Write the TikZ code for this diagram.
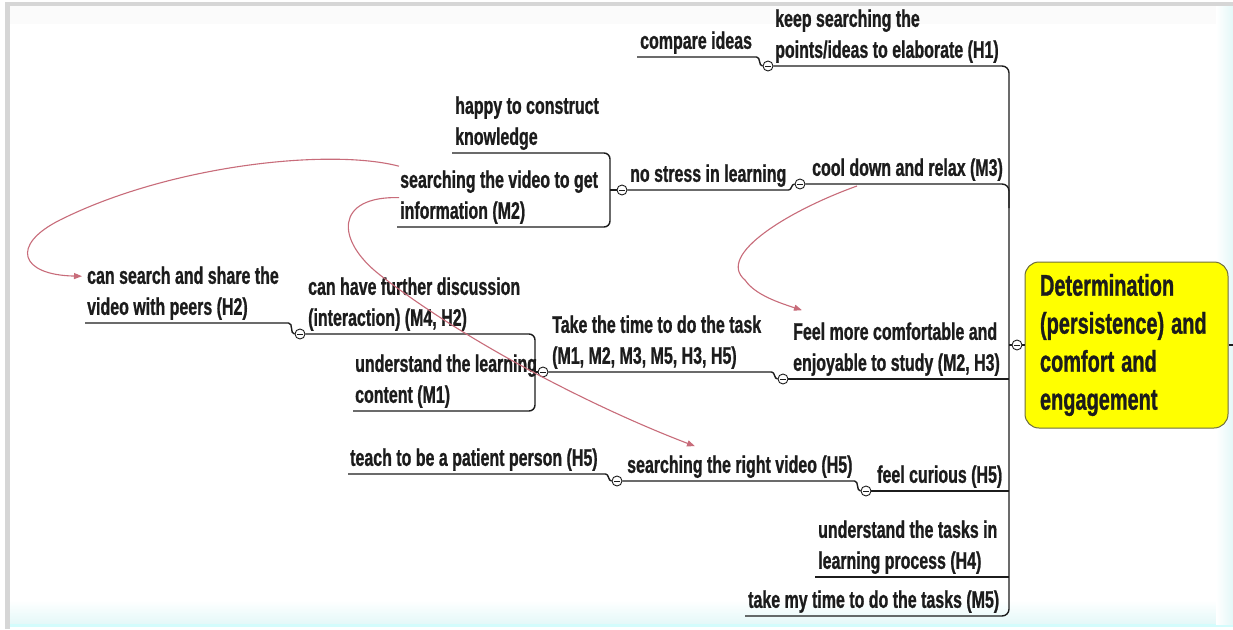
\documentclass[tikz,border=0pt]{standalone}
\usepackage{fontspec}
\setmainfont{Liberation Sans}[FakeStretch=0.665, BoldFeatures={FakeBold=0.9}]
\usetikzlibrary{arrows.meta,calc}

\definecolor{ink}{HTML}{1C1C1C}
\definecolor{linkred}{RGB}{200,108,122}
\definecolor{framegray}{HTML}{D6D6D6}
\definecolor{rootfill}{HTML}{FFFF00}
\definecolor{rootedge}{HTML}{6E6E3C}
\definecolor{edgecyan}{HTML}{E4F8F8}

% keeps the last line's depth fixed so labels sit evenly on their underlines
\newcommand\dstrut{\rule[-6pt]{0pt}{6pt}}

\tikzset{
  lbl/.style={anchor=south west, inner sep=0pt, align=left, text=ink,
    font=\bfseries\fontsize{24}{31}\selectfont},
  conn/.style={draw=ink, line width=1.4pt},
  knob/.style={circle, draw=ink, line width=0.9pt, fill=white,
    minimum size=10pt, inner sep=0pt,
    path picture={\draw[line width=0.8pt]
      ([xshift=-2.6pt]path picture bounding box.center) --
      ([xshift=2.6pt]path picture bounding box.center);}},
  link/.style={draw=linkred, line width=1.1pt,
    -{Triangle[length=8pt,width=6pt]}},
  rootbox/.style={draw=rootedge, line width=1pt, fill=rootfill,
    rounded corners=14pt, minimum width=203pt, minimum height=166pt,
    text width=173pt, inner xsep=15pt, align=left, text=ink,
    font=\bfseries\fontsize{30}{38}\selectfont}
}

\begin{document}
\begin{tikzpicture}[x=1pt,y=-1pt]
\useasboundingbox (0,0) rectangle (1233,629);

% page frame
\fill[white] (0,0) rectangle (1233,629);
\fill[gray!3] (10,6) rectangle (1233,24);
\shade[top color=white, bottom color=edgecyan] (10,600) rectangle (1233,624);
\fill[edgecyan!80!cyan!60] (10,624) rectangle (1233,627);
\shade[left color=white, right color=edgecyan] (1216,6) rectangle (1233,624);
\fill[framegray] (5,2) rectangle (1233,6);
\fill[framegray] (5,2) rectangle (10,629);

% central topic
\node[rootbox] (root) at (1126.5,345) {\spaceskip=7pt\relax Determination\\(persistence) and\\comfort and\\engagement};
\coordinate (sp) at (1009,345);
\coordinate (rtail) at (1233,345);
\node[knob] (rc) at (1017,345) {};

% collapse knobs
\node[knob] (c_h1) at (768,66) {};
\node[knob] (c_m3) at (800,184) {};
\node[knob] (c_ns) at (622,190) {};
\node[knob] (c_fc) at (783,379) {};
\node[knob] (c_tt) at (543,372) {};
\node[knob] (c_fd) at (300,334) {};
\node[knob] (c_rv) at (617,481) {};
\node[knob] (c_cu) at (866,491) {};

% underline starts of the leaf topics
\coordinate (u_cmp) at (637,57);
\coordinate (u_hap) at (452,153);
\coordinate (u_sv) at (397,227);
\coordinate (u_ss) at (85,323);
\coordinate (u_ul) at (353,411);
\coordinate (u_tp) at (348,474);
\coordinate (u_h4) at (815,577);
\coordinate (u_m5) at (745,616);
\coordinate (bx1) at (610,190);
\coordinate (bx2) at (535,372);

% topic labels
\node[lbl] (t_cmp) at (640,55) {compare ideas\dstrut};
\node[lbl] (t_h1) at (775,64) {keep searching the\\points/ideas to elaborate (H1)\dstrut};
\node[lbl] (t_hap) at (455,151) {happy to construct\\knowledge\dstrut};
\node[lbl] (t_sv) at (400,225) {searching the video to get\\information (M2)\dstrut};
\node[lbl] (t_ns) at (630,188) {no stress in learning\dstrut};
\node[lbl] (t_m3) at (812,182) {cool down and relax (M3)\dstrut};
\node[lbl] (t_ss) at (87,321) {can search and share the\\video with peers (H2)\dstrut};
\node[lbl] (t_fd) at (308,332) {can have further discussion\\(interaction) (M4, H2)\dstrut};
\node[lbl] (t_ul) at (355,409) {understand the learning\\content (M1)\dstrut};
\node[lbl] (t_tt) at (552,370) {Take the time to do the task\\(M1, M2, M3, M5, H3, H5)\dstrut};
\node[lbl] (t_fc) at (793,377) {Feel more comfortable and\\enjoyable to study (M2, H3)\dstrut};
\node[lbl] (t_tp) at (350,472) {teach to be a patient person (H5)\dstrut};
\node[lbl] (t_rv) at (627,479) {searching the right video (H5)\dstrut};
\node[lbl] (t_cu) at (877,489) {feel curious (H5)\dstrut};
\node[lbl] (t_h4) at (818,575) {understand the tasks in\\learning process (H4)\dstrut};
\node[lbl] (t_m5) at (748,614) {take my time to do the tasks (M5)\dstrut};

% main spine into the central topic
\draw[conn, rounded corners=7pt] (c_h1.east) -- (c_h1 -| sp) -- (sp |- u_m5) -- (u_m5);
\draw[conn, rounded corners=7pt] (c_m3.east) -- (c_m3 -| sp) -- ++(0,24);
\draw[conn] (c_fc.east) -- (c_fc -| sp);
\draw[conn] (c_cu.east) -- (c_cu -| sp);
\draw[conn] (u_h4) -- (u_h4 -| sp);
\draw[conn] (sp) -- (rc.west);
\draw[conn] (rc.east) -- (root.west);
\draw[conn] (root.east) -- (rtail);

% sub-branches
\draw[conn] (u_cmp) -- ($(u_cmp -| c_h1.west)+(-6,0)$) to[out=0,in=180] (c_h1.west);
\draw[conn] (c_ns.east) -- ($(c_ns -| c_m3.west)+(-6,0)$) to[out=0,in=180] (c_m3.west);
\draw[conn] (u_ss) -- ($(u_ss -| c_fd.west)+(-6,0)$) to[out=0,in=180] (c_fd.west);
\draw[conn] (c_tt.east) -- ($(c_tt -| c_fc.west)+(-6,0)$) to[out=0,in=180] (c_fc.west);
\draw[conn] (u_tp) -- ($(u_tp -| c_rv.west)+(-6,0)$) to[out=0,in=180] (c_rv.west);
\draw[conn] (c_rv.east) -- ($(c_rv -| c_cu.west)+(-6,0)$) to[out=0,in=180] (c_cu.west);

% brackets joining sibling topics
\draw[conn, rounded corners=6pt] (u_hap) -- (u_hap -| bx1) -- (u_sv -| bx1) -- (u_sv);
\draw[conn] (bx1) -- (c_ns.west);
\draw[conn, rounded corners=6pt] (c_fd.east) -- (c_fd -| bx2) -- (u_ul -| bx2) -- (u_ul);
\draw[conn] (bx2) -- (c_tt.west);

% cross links
\draw[link] ($(t_sv.north west)+(-1,-4)$) .. controls (330,148) and (170,165) .. (60,220)
  .. controls (10,245) and (20,275) .. ($(t_ss.north west)+(-5,10)$);
\draw[link] ($(t_sv.west)+(-1,0)$) .. controls (335,196) and (335,240) .. (380,275)
  .. controls (470,345) and (600,410) .. ($(t_rv.north west)+(68,-9)$);
\draw[link] ($(t_m3.south west)+(45,4)$) .. controls (790,210) and (715,255) .. (745,280)
  .. controls (755,295) and (780,303) .. ($(t_fc.north west)+(9,-12)$);
\end{tikzpicture}
\end{document}
